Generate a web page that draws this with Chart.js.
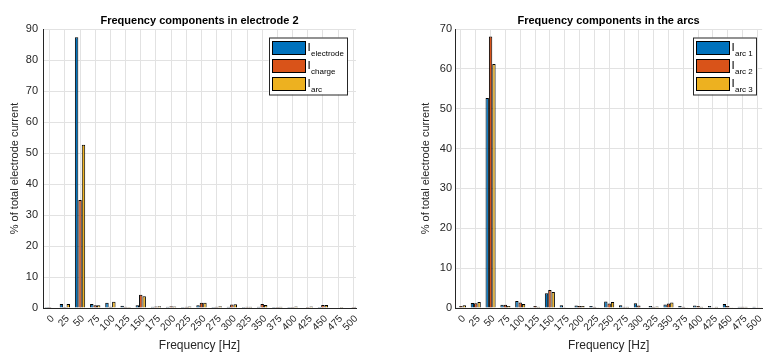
<!DOCTYPE html>
<html>
<head>
<meta charset="utf-8">
<script src="https://cdn.jsdelivr.net/npm/chart.js@4.4.0/dist/chart.umd.min.js"></script>
<style>
    body { margin: 0; background: #fff; }
    canvas { position: absolute; top: 0; }
    #chartLeft { left: 0; }
    #chartRight { left: 385px; }
</style>
</head>
<body>
<canvas id="chartLeft" width="385" height="354"></canvas>
<canvas id="chartRight" width="386" height="354"></canvas>
<script>
// 주파수 (가로축)
const freqs = [0, 25, 50, 75, 100, 125, 150, 175, 200, 225, 250, 275, 300, 325, 350, 375, 400, 425, 450, 475, 500];

// electrode 2 (%)
const iElectrode = [0.3, 1.3, 87.3, 1.3, 1.7, 0.7, 0.9, 0.4, 0.4, 0.3, 0.9, 0.3, 0.4, 0.3, 0.4, 0.3, 0.3, 0.2, 0.3, 0.2, 0.2];
const iCharge = [0.3, 0.3, 34.8, 0.9, 0.4, 0.4, 4.3, 0.5, 0.6, 0.4, 1.7, 0.4, 1.1, 0.4, 1.3, 0.3, 0.3, 0.3, 1.0, 0.2, 0.3];
const iArc = [0.2, 1.3, 52.7, 0.9, 2.0, 0.3, 3.8, 0.6, 0.5, 0.5, 1.7, 0.6, 1.2, 0.4, 1.0, 0.4, 0.5, 0.5, 1.0, 0.3, 0.4];

// arcs (%)
const iArc1 = [0.2, 1.25, 52.7, 0.8, 1.75, 0.2, 3.7, 0.7, 0.6, 0.5, 1.6, 0.7, 1.2, 0.5, 0.9, 0.5, 0.6, 0.5, 1.0, 0.3, 0.3];
const iArc2 = [0.5, 1.2, 68.1, 0.8, 1.4, 0.5, 4.5, 0.2, 0.5, 0.3, 1.1, 0.3, 0.6, 0.3, 1.1, 0.3, 0.5, 0.2, 0.5, 0.3, 0.2];
const iArc3 = [0.7, 1.5, 61.2, 0.5, 1.0, 0.3, 4.0, 0.1, 0.5, 0.2, 1.5, 0.3, 0.1, 0.4, 1.4, 0.2, 0.3, 0.3, 0.2, 0.3, 0.2];

const leftSubs = ['electrode', 'charge', 'arc'];
const rightSubs = ['arc 1', 'arc 2', 'arc 3'];

const colors = ['#0072BD', '#D95319', '#EDB120'];
const FONT = '"Liberation Sans", Arial, Helvetica, sans-serif';
const textColor = '#262626';

Chart.defaults.font.family = FONT;
Chart.defaults.color = textColor;

// 제목 + 범례 (아래첨자 때문에 직접 그림)
const titleAndLegend = {
    id: 'titleAndLegend',
    afterDraw(chart, args, opts) {
        const { ctx, chartArea } = chart;
        ctx.save();

        ctx.font = 'bold 11px ' + FONT;
        ctx.fillStyle = '#000';
        ctx.textAlign = 'center';
        ctx.textBaseline = 'middle';
        ctx.fillText(opts.title, (chartArea.left + chartArea.right) / 2, 20.5);

        // legend box
        ctx.font = '8px ' + FONT;
        const subW = Math.max(...opts.subs.map(s => ctx.measureText(s).width));
        const boxW = 3.5 + 33 + 2 + 3 + subW + opts.rightPad;
        const boxR = chartArea.right - opts.inset;
        const boxL = boxR - boxW;
        const boxT = 37.5;
        const boxH = 57;

        ctx.fillStyle = '#fff';
        ctx.fillRect(boxL, boxT, boxW, boxH);
        ctx.strokeStyle = textColor;
        ctx.lineWidth = 1;
        ctx.strokeRect(Math.round(boxL) + 0.5, boxT + 0.5, Math.round(boxW), boxH);

        opts.subs.forEach((sub, i) => {
            const y = 41 + i * 18;
            const sx = Math.round(boxL + 3.5) + 0.5;
            ctx.fillStyle = colors[i];
            ctx.fillRect(sx, y + 0.5, 33, 13);
            ctx.strokeStyle = '#000';
            ctx.strokeRect(sx, y + 0.5, 33, 13);

            ctx.fillStyle = '#000';
            ctx.textAlign = 'left';
            ctx.textBaseline = 'alphabetic';
            ctx.font = '11.5px ' + FONT;
            ctx.fillText('I', sx + 35, y + 9.5);
            ctx.font = '8px ' + FONT;
            ctx.fillText(sub, sx + 38.5, y + 14.5);
        });

        ctx.restore();
    }
};

function makeChart(canvasId, series, opts) {
    const datasets = series.map((values, i) => ({
        label: opts.subs[i],
        data: values.map((v, j) => ({ x: freqs[j], y: v })),
        backgroundColor: colors[i],
        borderColor: '#000',
        borderWidth: 1,
        categoryPercentage: 0.68,
        barPercentage: 1.0
    }));

    return new Chart(document.getElementById(canvasId), {
        type: 'bar',
        data: { datasets: datasets },
        options: {
            responsive: false,
            animation: false,
            layout: {
                padding: { left: opts.padLeft, right: opts.padRight, top: 29, bottom: 0 }
            },
            scales: {
                x: {
                    type: 'linear',
                    min: opts.xMin,
                    max: opts.xMax,
                    offset: false,
                    afterBuildTicks: (scale) => {
                        scale.ticks = freqs.map(v => ({ value: v }));
                    },
                    afterFit: (scale) => { scale.height = 46; },
                    ticks: {
                        autoSkip: false,
                        maxRotation: 45,
                        minRotation: 45,
                        padding: 5,
                        labelOffset: 3,
                        color: textColor,
                        font: { size: 10 },
                        callback: (v) => v
                    },
                    grid: { color: '#e2e2e2', drawTicks: false, offset: false },
                    border: { color: textColor, width: 1 },
                    title: {
                        display: true,
                        text: 'Frequency [Hz]',
                        color: textColor,
                        font: { size: 12 },
                        padding: { bottom: 1 }
                    }
                },
                y: {
                    min: 0,
                    max: opts.yMax,
                    afterFit: (scale) => { scale.width = opts.yWidth; },
                    ticks: {
                        stepSize: 10,
                        padding: opts.yTickPad,
                        color: textColor,
                        font: { size: 11 }
                    },
                    grid: { color: '#e2e2e2', drawTicks: false },
                    border: { color: textColor, width: 1 },
                    title: {
                        display: true,
                        text: '% of total electrode current',
                        color: textColor,
                        font: { size: 11 },
                        padding: { top: 8 }
                    }
                }
            },
            plugins: {
                legend: { display: false },
                tooltip: { enabled: false },
                titleAndLegend: {
                    title: opts.title,
                    subs: opts.subs,
                    inset: opts.inset,
                    rightPad: opts.rightPad
                }
            }
        },
        plugins: [titleAndLegend]
    });
}

makeChart('chartLeft', [iElectrode, iCharge, iArc], {
    title: 'Frequency components in electrode 2',
    subs: leftSubs,
    yMax: 90,
    xMin: -11,
    xMax: 504.5,
    padLeft: 0,
    padRight: 29,
    yWidth: 43,
    yTickPad: 5,
    inset: 9,
    rightPad: 4
});

makeChart('chartRight', [iArc1, iArc2, iArc3], {
    title: 'Frequency components in the arcs',
    subs: rightSubs,
    yMax: 70,
    xMin: -10,
    xMax: 508,
    padLeft: 26,
    padRight: 6,
    yWidth: 44,
    yTickPad: 3,
    inset: 6,
    rightPad: 4
});
</script>
</body>
</html>
